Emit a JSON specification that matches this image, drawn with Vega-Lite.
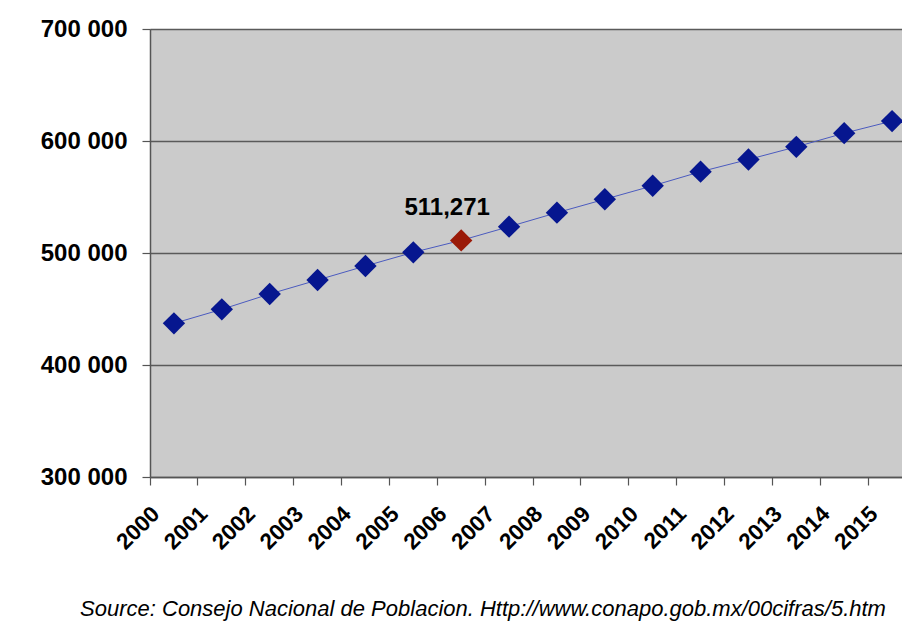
{
  "$schema": "https://vega.github.io/schema/vega-lite/v6.json",
  "autosize": {"type": "none"},
  "padding": {"left": 150, "top": 29, "right": 0, "bottom": 149},
  "width": 752,
  "height": 448,
  "background": "#ffffff",
  "config": {
    "font": "Liberation Sans",
    "view": {"fill": "#cbcbcb", "stroke": null}
  },
  "title": {
    "text": "Source: Consejo Nacional de Poblacion. Http://www.conapo.gob.mx/00cifras/5.htm",
    "orient": "bottom",
    "anchor": "middle",
    "font": "Liberation Sans",
    "fontStyle": "italic",
    "fontWeight": "normal",
    "fontSize": 22,
    "color": "#000000",
    "offset": 45,
    "dx": -43
  },
  "data": {
    "values": [
      {"year": "2000", "population": 437200},
      {"year": "2001", "population": 449700},
      {"year": "2002", "population": 463400},
      {"year": "2003", "population": 475900},
      {"year": "2004", "population": 488400},
      {"year": "2005", "population": 500600},
      {"year": "2006", "population": 511271},
      {"year": "2007", "population": 523500},
      {"year": "2008", "population": 536000},
      {"year": "2009", "population": 548000},
      {"year": "2010", "population": 560000},
      {"year": "2011", "population": 572600},
      {"year": "2012", "population": 583500},
      {"year": "2013", "population": 594800},
      {"year": "2014", "population": 607000},
      {"year": "2015", "population": 617800}
    ]
  },
  "encoding": {
    "x": {
      "field": "year",
      "type": "ordinal",
      "scale": {"type": "band", "paddingInner": 0, "paddingOuter": 0, "range": [0, 766]},
      "axis": {
        "title": null,
        "bandPosition": 0,
        "labelAngle": -45,
        "labelAlign": "right",
        "labelBaseline": "middle",
        "labelOffset": -18,
        "labelPadding": 25,
        "labelFont": "Liberation Sans",
        "labelFontWeight": "bold",
        "labelFontSize": 22.5,
        "labelColor": "#000000",
        "domainColor": "#555555",
        "domainWidth": 1.5,
        "tickColor": "#555555",
        "tickSize": 8,
        "tickWidth": 1.2,
        "grid": false
      }
    },
    "y": {
      "field": "population",
      "type": "quantitative",
      "scale": {"domain": [300000, 700000], "nice": false, "zero": false},
      "axis": {
        "title": null,
        "values": [300000, 400000, 500000, 600000, 700000],
        "labelExpr": "replace(format(datum.value, ',d'), ',', ' ')",
        "labelFont": "Liberation Sans",
        "labelFontWeight": "bold",
        "labelFontSize": 24,
        "labelColor": "#000000",
        "labelPadding": 15,
        "domainColor": "#555555",
        "domainWidth": 1.5,
        "tickColor": "#555555",
        "tickSize": 8,
        "tickWidth": 1.2,
        "grid": true,
        "gridColor": "#5a5a5a",
        "gridWidth": 1.5
      }
    }
  },
  "layer": [
    {
      "mark": {"type": "line", "color": "#4b5bbf", "strokeWidth": 1}
    },
    {
      "mark": {"type": "point", "shape": "diamond", "filled": true, "size": 500, "opacity": 1},
      "encoding": {
        "color": {
          "condition": {"test": "datum.year === '2006'", "value": "#9a1a08"},
          "value": "#06168f"
        }
      }
    },
    {
      "transform": [{"filter": "datum.year === '2006'"}],
      "mark": {
        "type": "text",
        "font": "Liberation Sans",
        "fontWeight": "bold",
        "fontSize": 24,
        "color": "#000000",
        "align": "center",
        "baseline": "middle",
        "dx": -14,
        "dy": -32
      },
      "encoding": {
        "text": {"field": "population", "type": "quantitative", "format": ","}
      }
    }
  ]
}
